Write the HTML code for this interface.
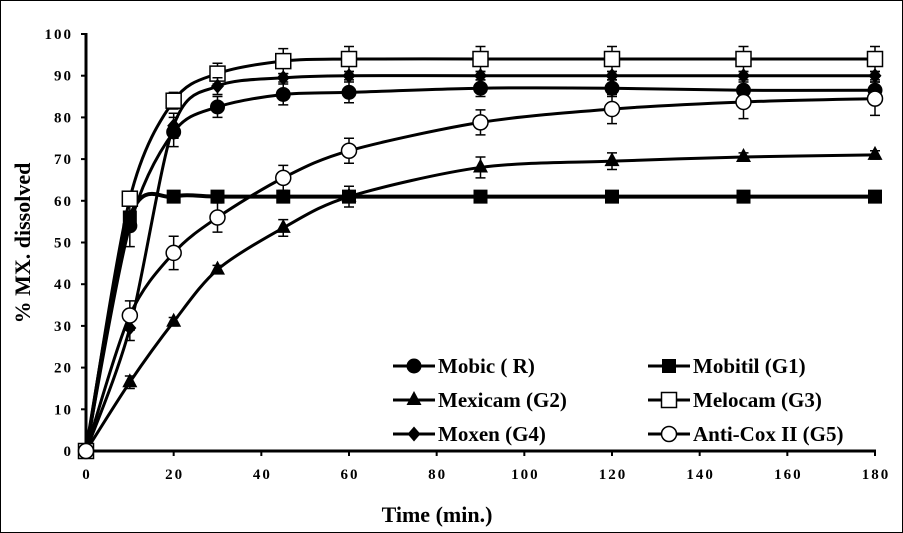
<!DOCTYPE html>
<html><head><meta charset="utf-8"><style>
body{margin:0;background:#fff}
svg{display:block;font-family:"Liberation Serif",serif;font-weight:bold}
</style></head><body>
<svg id="c" width="903" height="533">
<rect x="0.5" y="0.5" width="902" height="532" fill="#fff" stroke="#000"/>
</svg>
<script>
const times=[0,10,20,30,45,60,90,120,150,180];
const mobic=[0,54,76.5,82.5,85.5,86,87,87,86.5,86.5];
const mobicErr=[0,5,3.5,2.5,2.5,2.5,2,2,2,2];
const mobitil=[0,56,61,61,61,61,61,61,61,61];
const mobitilErr=[0,1,1,1,1,1,1,1,1,1];
const mexicam=[0,16.5,31,43.5,53.5,61,68,69.5,70.5,71];
const mexicamErr=[0,1.5,1,1,2,2.5,2.5,2,1,1];
const melocam=[0,60.5,84,90.5,93.5,94,94,94,94,94];
const melocamErr=[0,1,2,2.5,3,3,3,3,3,3];
const moxen=[0,29.5,78,87.5,89.5,90,90,90,90,90];
const moxenErr=[0,3,3,2,1,1,1,1,1,1];
const anticox=[0,32.5,47.5,56,65.5,72,78.8,82,83.7,84.5];
const anticoxErr=[0,3.5,4,3.5,3,3,3,3.5,4,4];
const xTicks=[0,20,40,60,80,100,120,140,160,180];
const yTicks=[0,10,20,30,40,50,60,70,80,90,100];
const NS="http://www.w3.org/2000/svg";
const svg=document.getElementById('c');
const X=t=>86+t*(875-86)/180;
const Y=v=>451-v*4.17;
function mk(tag,at,parent){const e=document.createElementNS(NS,tag);for(const k in at)e.setAttribute(k,at[k]);(parent||svg).appendChild(e);return e;}
let ax=mk('line',{x1:86,y1:33,x2:86,y2:451,stroke:'#000','stroke-width':3});


ax=mk('line',{x1:86,y1:451,x2:876,y2:451,stroke:'#000','stroke-width':3});


yTicks.forEach(v=>{
 mk('line',{x1:81,y1:Y(v),x2:86,y2:Y(v),stroke:'#000','stroke-width':2});
 const t=mk('text',{x:73,y:Y(v)+5,'text-anchor':'end','font-size':15,'letter-spacing':2});t.textContent=v;
 
 
});
xTicks.forEach(v=>{
 mk('line',{x1:X(v),y1:451,x2:X(v),y2:456,stroke:'#000','stroke-width':2});
 const t=mk('text',{x:X(v)+1,y:479,'text-anchor':'middle','font-size':15,'letter-spacing':2});t.textContent=v;
 
 
});
let tt=mk('text',{x:437,y:522,'text-anchor':'middle','font-size':22});tt.textContent='Time (min.)';


tt=mk('text',{x:0,y:0,'text-anchor':'middle','font-size':22,transform:'translate(30,243) rotate(-90)'});tt.textContent='% MX. dissolved';


function marker(g,type,x,y){
 const s=7;
 if(type==='circle')mk('circle',{cx:x,cy:y,r:7.5,fill:'#000'},g);
 if(type==='ocircle')mk('circle',{cx:x,cy:y,r:7.5,fill:'#fff',stroke:'#000','stroke-width':1.5},g);
 if(type==='square')mk('rect',{x:x-s,y:y-s,width:2*s,height:2*s,fill:'#000'},g);
 if(type==='osquare')mk('rect',{x:x-7.5,y:y-7.5,width:15,height:15,fill:'#fff',stroke:'#000','stroke-width':1.5},g);
 if(type==='tri')mk('polygon',{points:`${x},${y-9} ${x-7.5},${y+5} ${x+7.5},${y+5}`,fill:'#000'},g);
 if(type==='diamond')mk('polygon',{points:`${x},${y-7.5} ${x+6.5},${y} ${x},${y+7.5} ${x-6.5},${y}`,fill:'#000'},g);
}
function smooth(pts){
 let d=`M${pts[0][0]},${pts[0][1]}`;
 for(let i=0;i<pts.length-1;i++){
  const p0=pts[Math.max(0,i-1)],p1=pts[i],p2=pts[i+1],p3=pts[Math.min(pts.length-1,i+2)];
  const k=1/6*0.9;
  d+=` C${p1[0]+(p2[0]-p0[0])*k},${p1[1]+(p2[1]-p0[1])*k} ${p2[0]-(p3[0]-p1[0])*k},${p2[1]-(p3[1]-p1[1])*k} ${p2[0]},${p2[1]}`;
 }
 return d;
}
const series=[
 {name:'series-mobic',vals:mobic,err:mobicErr,m:'circle',w:3},
 {name:'series-mobitil',vals:mobitil,err:mobitilErr,m:'square',w:4},
 {name:'series-mexicam',vals:mexicam,err:mexicamErr,m:'tri',w:3},
 {name:'series-melocam',vals:melocam,err:melocamErr,m:'osquare',w:3},
 {name:'series-moxen',vals:moxen,err:moxenErr,m:'diamond',w:3},
 {name:'series-anticox',vals:anticox,err:anticoxErr,m:'ocircle',w:3}
];
series.forEach(s=>{
 const g=mk('g',{});
 
 
 const pts=times.map((t,i)=>[X(t),Y(s.vals[i])]);
 mk('path',{d:smooth(pts),fill:'none',stroke:'#000','stroke-width':s.w},g);
 times.forEach((t,i)=>{
  if(s.err[i]>0){
   const x=X(t),y1=Y(s.vals[i]+s.err[i]),y2=Y(s.vals[i]-s.err[i]);
   mk('path',{d:`M${x},${y1}V${y2}M${x-5},${y1}H${x+5}M${x-5},${y2}H${x+5}`,stroke:'#000','stroke-width':1.5,fill:'none'},g);
  }
 });
 times.forEach((t,i)=>marker(g,s.m,X(t),Y(s.vals[i])));
});
const legendNames=['Mobic ( R)','Mobitil (G1)','Mexicam (G2)','Melocam (G3)','Moxen (G4)','Anti-Cox II (G5)'];
legendNames.forEach((n,i)=>{
 const col=i%2,row=Math.floor(i/2);
 const lx=col?648:393,ly=366+row*34;
 const g=mk('g',{});
 
 
 mk('line',{x1:lx,y1:ly,x2:lx+42,y2:ly,stroke:'#000','stroke-width':3},g);
 marker(g,series[i].m,lx+21,ly);
 const t=mk('text',{x:lx+45,y:ly+7,'font-size':21},g);t.textContent=n;
});
</script>
</body></html>
